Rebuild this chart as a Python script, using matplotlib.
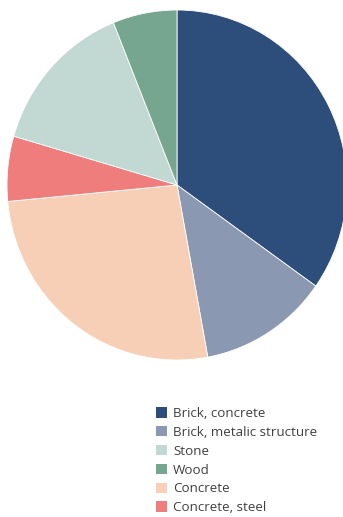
import matplotlib
matplotlib.use("Agg")
import matplotlib.pyplot as plt
from matplotlib.patches import Patch

# pie order (clockwise from top)
labels = ["Brick, concrete", "Brick, metalic structure", "Concrete",
          "Concrete, steel", "Stone", "Wood"]
values = [34.8, 12.3, 26.4, 6.0, 14.4, 6.1]
colors = ["#2d4d7a", "#8a98b2", "#f7cfb6", "#ee7d7b", "#c2d8d2", "#76a590"]

# legend order
legend_order = ["Brick, concrete", "Brick, metalic structure", "Stone",
                "Wood", "Concrete", "Concrete, steel"]

plt.rcParams['font.family'] = ['Open Sans', 'DejaVu Sans']

W, H = 343, 517
fig = plt.figure(figsize=(W / 100, H / 100), dpi=100)

# axes placed so the unit circle lands on the pie area
ax = fig.add_axes([7 / W, 157 / H, 340 / W, 350 / H])
ax.pie(values, colors=colors, startangle=90, counterclock=False,
       wedgeprops=dict(linewidth=0.6, edgecolor="white"))
ax.set_aspect("auto")
ax.set_xlim(-1, 1)
ax.set_ylim(-1, 1)
ax.axis("off")

color_map = dict(zip(labels, colors))
handles = [Patch(facecolor=color_map[l], edgecolor="none", label=l)
           for l in legend_order]
fig.legend(handles=handles, loc="upper left",
           bbox_to_anchor=(156 / W, 1 - 407 / H), frameon=False,
           fontsize=9.6, labelcolor="#404040", handlelength=0.83,
           handleheight=0.83, handletextpad=0.45, labelspacing=0.44,
           borderaxespad=0, borderpad=0)

fig.savefig("out.png", dpi=100)
